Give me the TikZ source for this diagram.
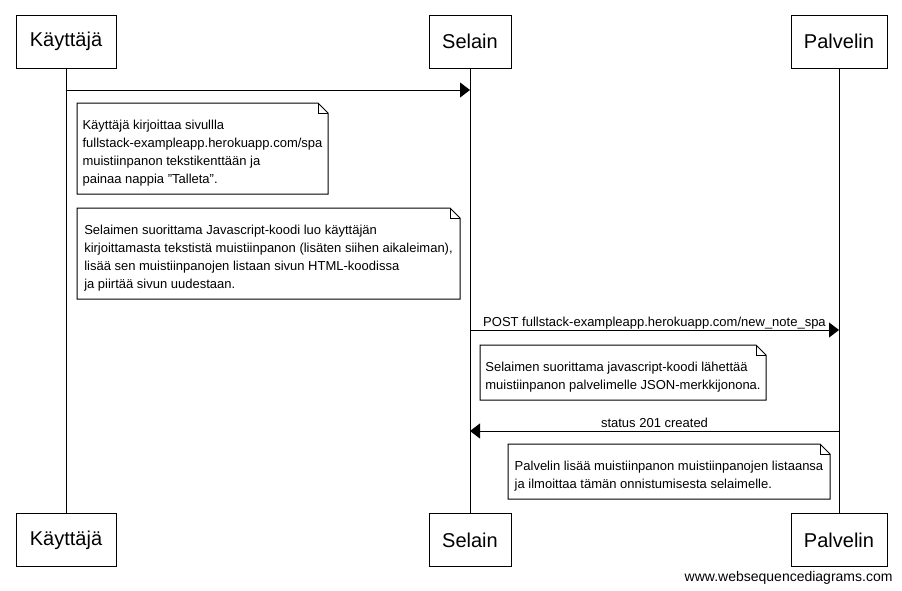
\documentclass[tikz,border=0pt]{standalone}
\usepackage{fontspec}
\setmainfont{Liberation Sans}
\usetikzlibrary{arrows.meta}
\begin{document}
\begin{tikzpicture}[x=1pt,y=-1pt,line width=1pt,
  actor/.style={draw,minimum height=53pt,inner sep=0pt,font=\fontsize{20}{24}\selectfont},
  notetext/.style={align=left,inner sep=0pt,anchor=north west,font=\fontsize{13}{18}\selectfont},
  msg/.style={-{Triangle[length=10pt,width=15pt]}},
  lbl/.style={font=\fontsize{13}{16}\selectfont,inner sep=0pt,anchor=base}]
\fill[white] (0,0) rectangle (902,590);
\useasboundingbox (0,0) rectangle (902,590);
% actors
\node[actor,minimum width=100pt] (k1) at (66,41.5) {Käyttäjä};
\node[actor,minimum width=82pt] (s1) at (470,41.5) {Selain};
\node[actor,minimum width=96pt] (p1) at (839,41.5) {Palvelin};
\node[actor,minimum width=100pt] (k2) at (66,540) {Käyttäjä};
\node[actor,minimum width=82pt] (s2) at (470,540) {Selain};
\node[actor,minimum width=96pt] (p2) at (839,540) {Palvelin};
% lifelines
\draw (k1) -- (k2);
\draw (s1) -- (s2);
\draw (p1) -- (p2);
% message points
\coordinate (a1) at (66,90);
\coordinate (b1) at (470,90);
\coordinate (a2) at (470,330);
\coordinate (b2) at (839,330);
\coordinate (a3) at (839,431);
\coordinate (b3) at (470,431);
\draw[msg] (a1) -- (b1);
\draw[msg] (a2) -- (b2);
\node[lbl] (l2) at (654.5,326) {POST fullstack-exampleapp.herokuapp.com/new\_note\_spa};
\draw[msg] (a3) -- (b3);
\node[lbl] (l3) at (654.5,427) {status 201 created};
% notes
\node[notetext,minimum width=250pt,minimum height=90pt] (n1) at (77,103)
  {\rule{0pt}{18pt}Käyttäjä kirjoittaa sivullla\\fullstack-exampleapp.herokuapp.com/spa\\muistiinpanon tekstikenttään ja\\painaa nappia \symbol{34}Talleta\symbol{34}.};
\node[notetext,minimum width=382pt,minimum height=90pt] (n2) at (77,208)
  {\rule{0pt}{18pt}Selaimen suorittama Javascript-koodi luo käyttäjän\\kirjoittamasta tekstistä muistiinpanon (lisäten siihen aikaleiman),\\lisää sen muistiinpanojen listaan sivun HTML-koodissa\\ja piirtää sivun uudestaan.};
\node[notetext,minimum width=285pt,minimum height=54pt] (n3) at (480,345)
  {\rule{0pt}{18pt}Selaimen suorittama javascript-koodi lähettää\\muistiinpanon palvelimelle JSON-merkkijonona.};
\node[notetext,minimum width=321pt,minimum height=54pt] (n4) at (508,444)
  {\rule{0pt}{18pt}Palvelin lisää muistiinpanon muistiinpanojen listaansa\\ja ilmoittaa tämän onnistumisesta selaimelle.};
\foreach \n in {n1,n2,n3,n4}{
  \draw (\n.north west) -- ([xshift=-10pt]\n.north east) -- ([yshift=-10pt]\n.north east) -- (\n.south east) -- (\n.south west) -- cycle;
  \draw ([xshift=-10pt]\n.north east) -- ([xshift=-10pt,yshift=-10pt]\n.north east) -- ([yshift=-10pt]\n.north east);
}
\node[anchor=base east,inner sep=0pt,font=\fontsize{14}{16}\selectfont] (wm) at (893,581) {www.websequencediagrams.com};
\end{tikzpicture}
\end{document}
